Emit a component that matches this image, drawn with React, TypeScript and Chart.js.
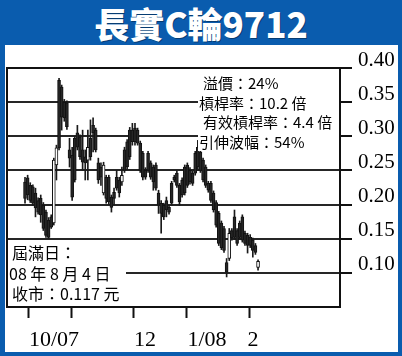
import React, { useEffect, useRef } from "react";
import { Chart, registerables } from "chart.js";

Chart.register(...registerables);

const TITLE = "長實C輪9712";

// Daily OHLC of the warrant (HK$)
const OPEN = [
  0.233, 0.239, 0.228, 0.226, 0.217, 0.206, 0.209, 0.199, 0.189, 0.177,
  0.182, 0.173, 0.258, 0.382, 0.372, 0.350, 0.349, 0.280, 0.272, 0.297,
  0.305, 0.299, 0.280, 0.270, 0.265, 0.297, 0.316, 0.309, 0.261, 0.255,
  0.217, 0.240, 0.240, 0.211, 0.218, 0.240, 0.236, 0.233, 0.280, 0.292,
  0.309, 0.309, 0.312, 0.309, 0.290, 0.275, 0.250, 0.275, 0.261, 0.255,
  0.258, 0.217, 0.202, 0.199, 0.206, 0.196, 0.231, 0.240, 0.246, 0.228,
  0.236, 0.255, 0.258, 0.250, 0.246, 0.275, 0.284, 0.277, 0.265, 0.255,
  0.231, 0.231, 0.217, 0.203, 0.187, 0.173, 0.165, 0.115, 0.121, 0.162,
  0.182, 0.162, 0.173, 0.182, 0.158, 0.155, 0.152, 0.148, 0.140, 0.108,
];
const HIGH = [
  0.240, 0.243, 0.232, 0.229, 0.224, 0.210, 0.214, 0.203, 0.192, 0.181,
  0.185, 0.268, 0.287, 0.385, 0.375, 0.354, 0.352, 0.297, 0.284, 0.300,
  0.316, 0.302, 0.309, 0.280, 0.309, 0.324, 0.327, 0.312, 0.268, 0.261,
  0.262, 0.243, 0.243, 0.214, 0.224, 0.250, 0.240, 0.255, 0.284, 0.295,
  0.313, 0.319, 0.319, 0.312, 0.293, 0.278, 0.254, 0.278, 0.264, 0.258,
  0.261, 0.221, 0.206, 0.202, 0.211, 0.199, 0.234, 0.243, 0.249, 0.231,
  0.239, 0.258, 0.261, 0.254, 0.249, 0.278, 0.294, 0.280, 0.268, 0.258,
  0.234, 0.234, 0.220, 0.206, 0.190, 0.176, 0.168, 0.121, 0.165, 0.165,
  0.192, 0.165, 0.176, 0.185, 0.161, 0.158, 0.156, 0.151, 0.143, 0.119,
];
const LOW = [
  0.202, 0.207, 0.203, 0.199, 0.182, 0.186, 0.174, 0.162, 0.152, 0.150,
  0.165, 0.170, 0.236, 0.280, 0.309, 0.322, 0.310, 0.255, 0.206, 0.233,
  0.280, 0.266, 0.250, 0.236, 0.236, 0.265, 0.277, 0.277, 0.231, 0.228,
  0.214, 0.202, 0.200, 0.189, 0.199, 0.221, 0.211, 0.228, 0.247, 0.252,
  0.266, 0.287, 0.287, 0.287, 0.247, 0.236, 0.237, 0.247, 0.237, 0.221,
  0.221, 0.187, 0.158, 0.178, 0.182, 0.186, 0.199, 0.233, 0.225, 0.199,
  0.211, 0.214, 0.225, 0.230, 0.228, 0.243, 0.250, 0.247, 0.233, 0.225,
  0.218, 0.203, 0.189, 0.167, 0.140, 0.134, 0.130, 0.094, 0.118, 0.148,
  0.149, 0.140, 0.149, 0.145, 0.140, 0.129, 0.137, 0.123, 0.127, 0.104,
];
const CLOSE = [
  0.209, 0.214, 0.206, 0.202, 0.195, 0.189, 0.185, 0.165, 0.155, 0.152,
  0.167, 0.265, 0.283, 0.283, 0.328, 0.327, 0.314, 0.268, 0.211, 0.236,
  0.284, 0.270, 0.262, 0.261, 0.284, 0.270, 0.305, 0.280, 0.236, 0.240,
  0.258, 0.209, 0.204, 0.196, 0.209, 0.224, 0.217, 0.243, 0.250, 0.255,
  0.270, 0.292, 0.292, 0.290, 0.250, 0.240, 0.240, 0.250, 0.240, 0.233,
  0.224, 0.199, 0.187, 0.182, 0.192, 0.189, 0.202, 0.236, 0.228, 0.204,
  0.214, 0.217, 0.228, 0.233, 0.231, 0.246, 0.255, 0.250, 0.236, 0.228,
  0.221, 0.206, 0.192, 0.170, 0.143, 0.137, 0.133, 0.101, 0.158, 0.151,
  0.152, 0.143, 0.152, 0.148, 0.143, 0.140, 0.140, 0.133, 0.130, 0.117,
];

const X_MIN = -6.88;
const X_MAX = 120.3;
const X_TICK_MARKS = [1.15, 17.57, 41.25, 61.5, 85.56];
const X_LABEL_AT = [11.08, 45.84, 69.52, 87.09];
const X_LABELS = ["10/07", "12", "1/08", "2"];

const Y_MIN = 0.05;
const Y_MAX = 0.4;
const Y_TICKS = [0.1, 0.15, 0.2, 0.25, 0.3, 0.35, 0.4];

const INFO_LINES = ["溢價：24%", "槓桿率：10.2 倍", "有效槓桿率：4.4 倍", "引伸波幅：54%"];
const EXPIRY_LINES = ["屆滿日：", "08 年 8 月 4 日", "收市：0.117 元"];

const BLUE = "#0a5cae";
const CJK = '"Noto Sans CJK TC", "Noto Sans", sans-serif';

export default function App() {
  const ref = useRef<HTMLCanvasElement>(null);

  useEffect(() => {
    const idx = OPEN.map((_, i) => i);
    const bodies = idx.map((i) => ({ x: i, y: [OPEN[i], CLOSE[i]] }));
    const wicks = idx.map((i) => ({ x: i, y: [LOW[i], HIGH[i]] }));
    const upFlags = idx.map((i) => CLOSE[i] >= OPEN[i]);
    const isLabel = (v: number) => X_LABEL_AT.indexOf(v) >= 0;
    const allX = [...X_TICK_MARKS, ...X_LABEL_AT].sort((a, b) => a - b);

    const chart = new Chart(ref.current as HTMLCanvasElement, {
      type: "bar",
      data: {
        datasets: [
          {
            data: bodies as any,
            barThickness: 3,
            backgroundColor: upFlags.map((u) => (u ? "#ffffff" : "#262626")),
            borderColor: "#111111",
            borderWidth: 1,
            borderSkipped: false,
            grouped: false,
            order: 0,
          } as any,
          {
            data: wicks as any,
            barThickness: 1,
            backgroundColor: "#1a1a1a",
            borderWidth: 0,
            grouped: false,
            order: 1,
          } as any,
        ],
      },
      options: {
        animation: false,
        responsive: false,
        events: [],
        plugins: { legend: { display: false }, tooltip: { enabled: false } },
        layout: { padding: { left: 7, top: 68, right: 0, bottom: 0 } },
        scales: {
          x: {
            type: "linear",
            position: "bottom",
            min: X_MIN,
            max: X_MAX,
            offset: false,
            bounds: "data",
            afterBuildTicks: (s: any) => {
              s.ticks = allX.map((v) => ({ value: v }));
            },
            afterFit: (s: any) => {
              s.height = 49;
            },
            grid: {
              display: true,
              offset: false,
              drawOnChartArea: false,
              drawTicks: true,
              tickLength: 11,
              tickWidth: 2,
              tickColor: (ctx: any) =>
                ctx.tick && isLabel(ctx.tick.value) ? "rgba(0,0,0,0)" : "#111111",
            },
            border: { display: true, color: "#111111", width: 2 },
            ticks: {
              autoSkip: false,
              maxRotation: 0,
              minRotation: 0,
              padding: 9,
              color: "#000000",
              font: { family: '"Liberation Serif", serif', size: 22 },
              callback: (v: any) => {
                const k = X_LABEL_AT.indexOf(Number(v));
                return k >= 0 ? X_LABELS[k] : "";
              },
            },
          },
          y: {
            type: "linear",
            position: "right",
            min: Y_MIN,
            max: Y_MAX,
            afterBuildTicks: (s: any) => {
              s.ticks = Y_TICKS.map((v) => ({ value: v }));
            },
            afterFit: (s: any) => {
              s.width = 62;
            },
            grid: {
              display: true,
              drawOnChartArea: true,
              drawTicks: true,
              tickLength: 12,
              color: "#262626",
              lineWidth: 2,
              tickWidth: 2,
              tickColor: "#111111",
            },
            border: { display: true, color: "#111111", width: 2 },
            ticks: {
              padding: 6,
              labelOffset: -8,
              color: "#000000",
              font: { family: '"Liberation Serif", serif', size: 21 },
              callback: (v: any) => Number(v).toFixed(2),
            },
          },
          xt: {
            type: "linear",
            position: "top",
            min: X_MIN,
            max: X_MAX,
            offset: false,
            afterFit: (s: any) => {
              s.height = 0;
            },
            grid: { display: false },
            ticks: { display: false },
            border: { display: true, color: "#111111", width: 2 },
          },
          yl: {
            type: "linear",
            position: "left",
            min: Y_MIN,
            max: Y_MAX,
            afterFit: (s: any) => {
              s.width = 0;
            },
            grid: { display: false },
            ticks: { display: false },
            border: { display: true, color: "#111111", width: 2 },
          },
        },
      } as any,
    });
    return () => chart.destroy();
  }, []);

  return (
    <div
      style={{
        position: "absolute",
        left: 0,
        top: 0,
        width: 402,
        height: 356,
        background: BLUE,
        overflow: "hidden",
      }}
    >
      <div
        style={{
          position: "absolute",
          left: 0,
          top: 0,
          width: 402,
          height: 45,
          lineHeight: "45px",
          textAlign: "center",
          color: "#ffffff",
          fontFamily: CJK,
          fontWeight: 900,
          fontSize: 35,
          textShadow: "1px 1px 0 rgba(0,0,0,0.35)",
        }}
      >
        {TITLE}
      </div>
      <div
        style={{
          position: "absolute",
          left: 5,
          top: 45,
          width: 393,
          height: 307,
          background: "#ffffff",
        }}
      />
      <canvas
        ref={ref}
        width={402}
        height={356}
        style={{ position: "absolute", left: 0, top: 0, width: 402, height: 356 }}
      />
      <div
        style={{
          position: "absolute",
          left: 198,
          top: 72,
          width: 141,
          height: 79,
          background: "#ffffff",
          fontFamily: CJK,
          fontSize: 15,
          lineHeight: "19.5px",
          color: "#000",
          whiteSpace: "nowrap",
        }}
      >
        {INFO_LINES.map((t, i) => (
          <div key={i} style={{ paddingLeft: i % 2 === 0 ? 5 : 1, marginTop: i === 0 ? 1 : 0 }}>
            {t}
          </div>
        ))}
      </div>
      <div
        style={{
          position: "absolute",
          left: 8,
          top: 242,
          width: 118,
          height: 63,
          background: "#ffffff",
          fontFamily: CJK,
          fontSize: 16,
          lineHeight: "20.5px",
          color: "#000",
          whiteSpace: "nowrap",
        }}
      >
        {EXPIRY_LINES.map((t, i) => (
          <div key={i} style={{ paddingLeft: i === 1 ? 1 : 4 }}>
            {t}
          </div>
        ))}
      </div>
    </div>
  );
}
